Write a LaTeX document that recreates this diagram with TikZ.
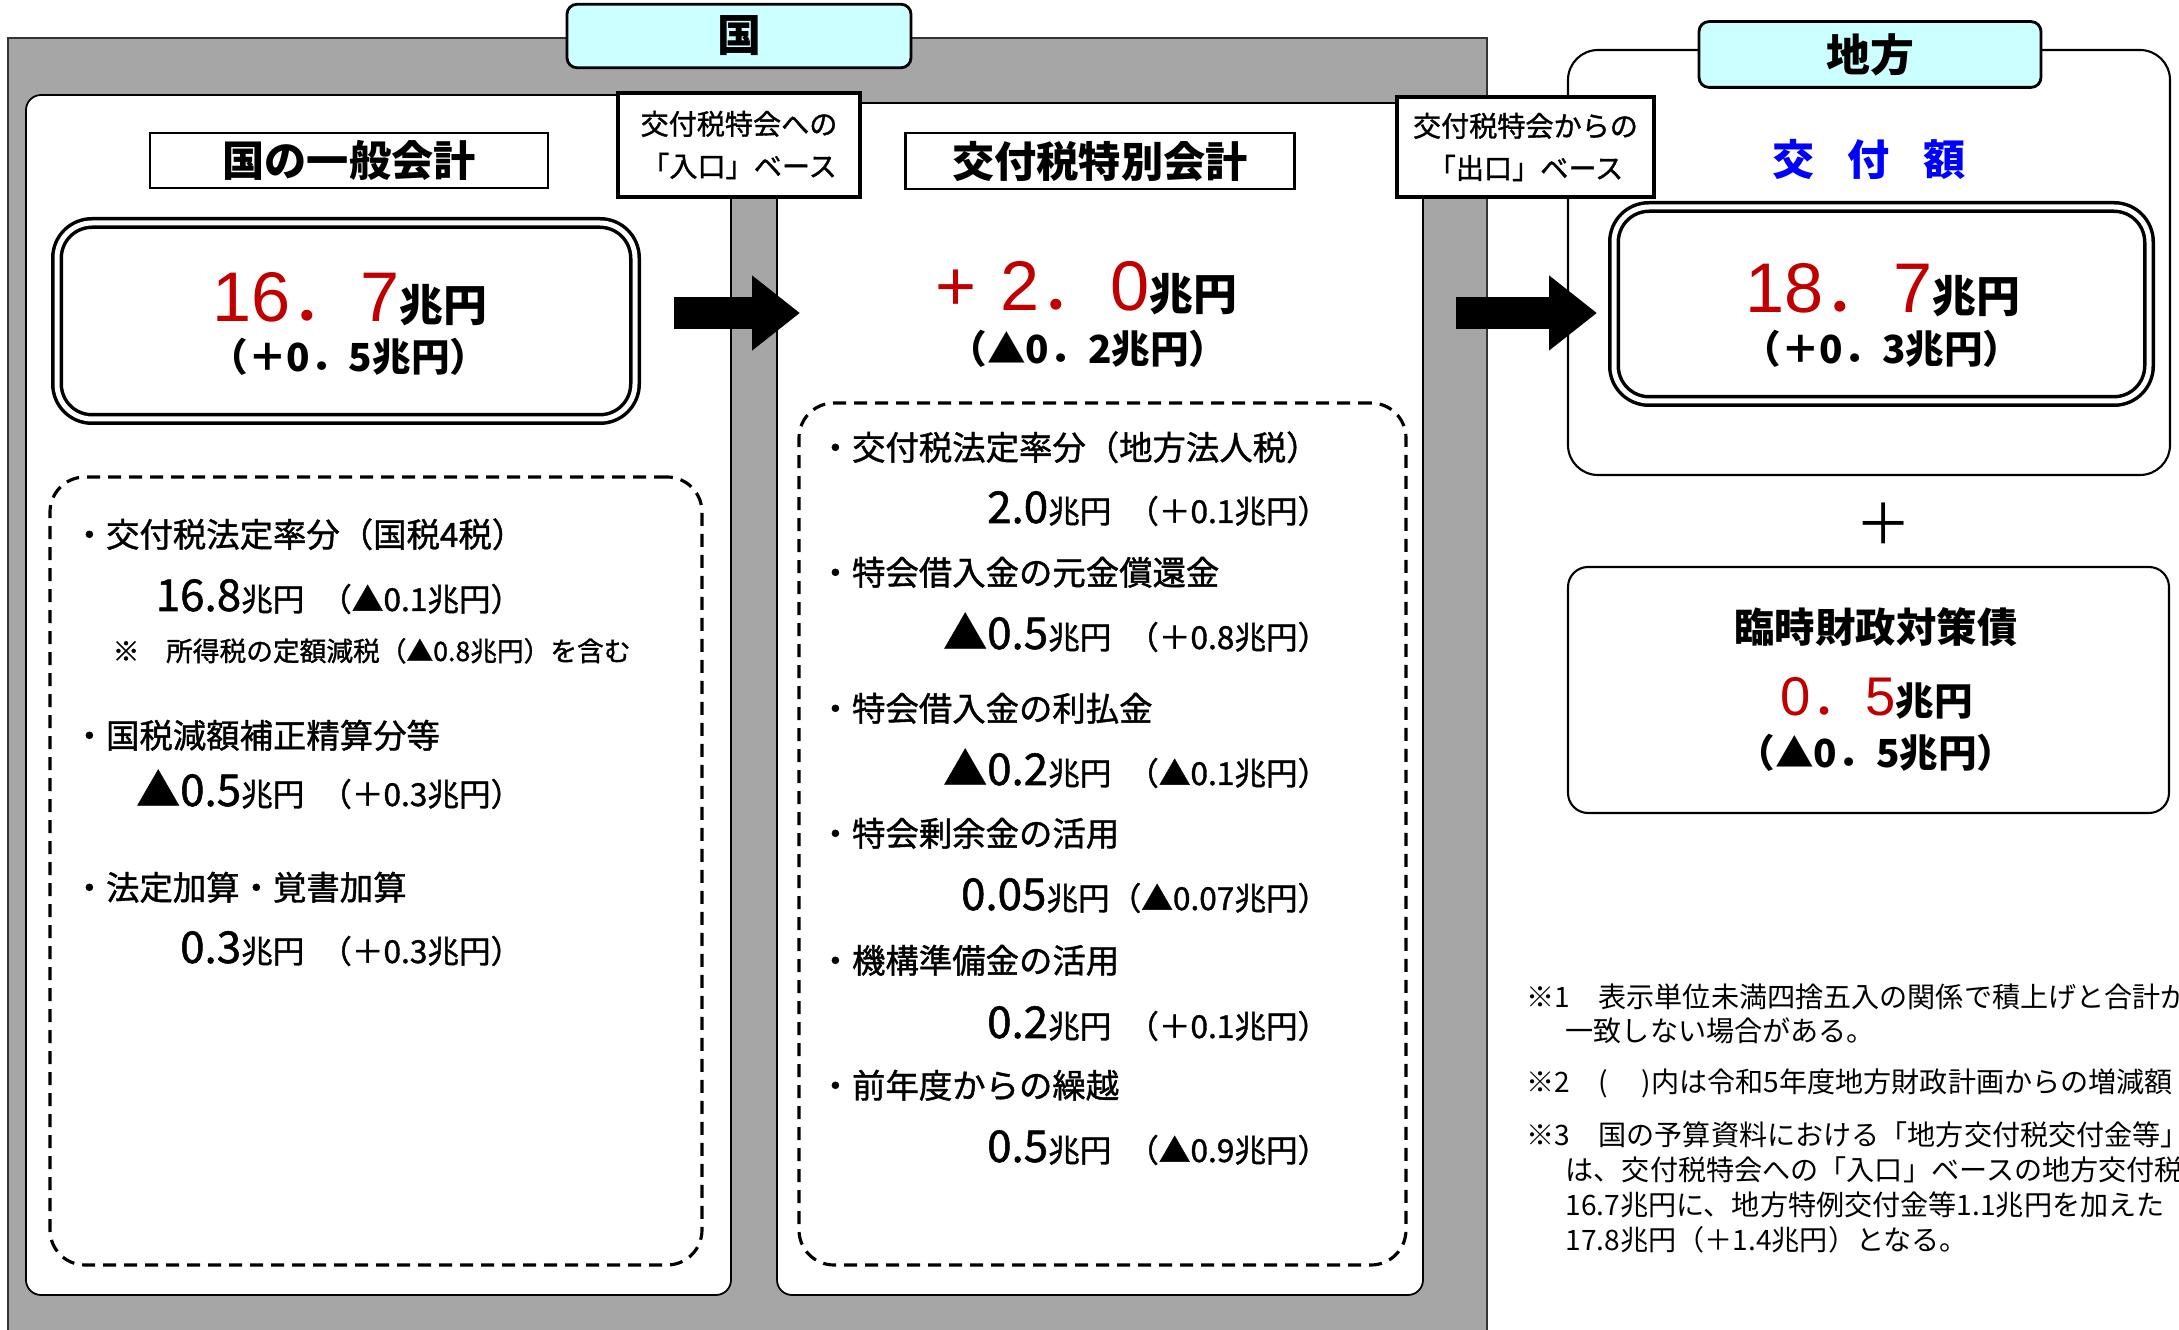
\documentclass[tikz,border=0pt]{standalone}
\usepackage{fontspec}
\setmainfont{Noto Sans CJK JP}
\newfontfamily\jpmed[FakeBold=1.2]{Noto Sans CJK JP}
\newfontfamily\lib{Liberation Sans}
\usetikzlibrary{arrows.meta, positioning}
\definecolor{bggray}{HTML}{A6A6A6}
\definecolor{tabcyan}{HTML}{CCFFFF}
\definecolor{numred}{HTML}{C00000}
\definecolor{kofublue}{HTML}{0000FF}
\newcommand{\fsz}[1]{\fontsize{#1}{#1}\selectfont}
\newcommand{\amt}[2]{{\fsz{12.5}#1}兆円\hspace{0.5em}#2}
\newcommand{\headnum}[2]{\textcolor{numred}{\fsz{20}{\lib #1}．{\lib #2}}}
\tikzset{
  bg/.style={fill=bggray, draw=black!80, line width=0.6pt}, % the grey frame of 国
  panel/.style={draw=black, fill=white, rounded corners=1.5mm, line width=0.5pt},
  locbox/.style={draw=black, fill=white, rounded corners=3mm, line width=0.6pt},
  tab/.style={draw=black, fill=tabcyan, rounded corners=1mm, line width=0.8pt, font=\bfseries\fsz{12.5}},
  title/.style={draw=black, fill=white, line width=0.8pt, inner sep=0pt, font=\bfseries\fsz{12}},
  gate/.style={draw=black, fill=white, line width=1.4pt, align=center, font=\jpmed\fontsize{8}{12}\selectfont},
  total/.style={draw=black, fill=white, double, double distance=0.5mm, line width=0.35mm, rounded corners=3.5mm},
  listbox/.style={draw=black, line width=0.9pt, dash pattern=on 1.3mm off 0.8mm, rounded corners=3.5mm},
  bignum/.style={anchor=base, inner sep=0pt},
  subnum/.style={anchor=base, inner sep=0pt, font=\bfseries\fsz{11}},
  item/.style={anchor=base west, inner sep=0pt, font=\jpmed\fsz{9.5}},
  amount/.style={anchor=base east, inner sep=0pt, font=\jpmed\fsz{9}},
  remark/.style={anchor=base west, inner sep=0pt, font=\jpmed\fsz{7.6}},
  fnote/.style={anchor=base west, inner sep=0pt, font=\fsz{8}},
  flow/.style={line width=3.2mm, -{Triangle[length=4.8mm, width=7.2mm]}},
}
\begin{document}
\begin{tikzpicture}[x=0.1mm, y=-0.1mm]
\useasboundingbox (0,0) rectangle (2179,1330);
\clip (0,0) rectangle (2179,1330);

% 国
\draw[bg] (8,38) rectangle (1487,1360);
\node[panel, minimum width=70.5mm, minimum height=120mm] (genpanel) at (378.5,695) {};
\node[panel, minimum width=64.6mm, minimum height=119.2mm] (spepanel) at (1100,699) {};

% 地方
\node[locbox, minimum width=60.2mm, minimum height=42.5mm] (locpanel) at (1869,262.5) {};
\node[locbox, rounded corners=2mm, minimum width=60.1mm, minimum height=24.6mm] (rinji) at (1868.5,690) {};

\node[tab, minimum width=34.4mm, minimum height=5.6mm] (kuni) at (739,36) {国};
\node[tab, minimum width=34.2mm, minimum height=5.7mm] (chiho) at (1870,54.5) {地方};

\node[gate, minimum width=24.2mm, minimum height=10.4mm] (iriguchi) at (739,145) {交付税特会への\\「入口」ベース};
\node[gate, minimum width=25.7mm, minimum height=10mm] (deguchi) at (1525.5,147) {交付税特会からの\\「出口」ベース};

% general account
\node[title, minimum width=39.8mm, minimum height=5.5mm] (gentitle) at (349,160.5) {国の一般会計};
\node[total, minimum width=57.8mm, minimum height=19.6mm] (gentotal) at (346,321) {};
\node[bignum] (genamt) at (350,322) {\headnum{16}{7}\bfseries\fsz{12.5}兆円};
\node[subnum] (gendiff) at (349,372) {（＋0．5兆円）};

\node[listbox, minimum width=65.2mm, minimum height=78.8mm] (genlist) at (376,871) {};
\node[item] (gen1) at (72,547) {・交付税法定率分（国税4税）};
\node[amount] (genv1) at (523,611) {\amt{16.8}{（▲0.1兆円）}};
\node[remark] (gennote) at (112,661) {※　所得税の定額減税（▲0.8兆円）を含む};
\node[item] (gen2) at (72,748) {・国税減額補正精算分等};
\node[amount] (genv2) at (523,806) {\amt{▲0.5}{（＋0.3兆円）}};
\node[item] (gen3) at (72,900) {・法定加算・覚書加算};
\node[amount] (genv3) at (523,963) {\amt{0.3}{（＋0.3兆円）}};

% special account
\node[title, minimum width=38.9mm, minimum height=5.6mm] (spetitle) at (1100,161) {交付税特別会計};
\node[bignum] (speamt) at (1086,311) {\textcolor{numred}{\fsz{20}\lib +\hspace{0.35em}}\headnum{2}{0}\bfseries\fsz{12.5}兆円};
\node[subnum] (spediff) at (1088,364) {（▲0．2兆円）};

\node[listbox, minimum width=60.7mm, minimum height=86.2mm] (spelist) at (1102.5,834) {};
\node[item] (spe1) at (818,460) {・交付税法定率分（地方法人税）};
\node[amount] (spev1) at (1330,523) {\amt{2.0}{（＋0.1兆円）}};
\node[item] (spe2) at (818,585) {・特会借入金の元金償還金};
\node[amount] (spev2) at (1330,649) {\amt{▲0.5}{（＋0.8兆円）}};
\node[item] (spe3) at (818,721) {・特会借入金の利払金};
\node[amount] (spev3) at (1330,785) {\amt{▲0.2}{（▲0.1兆円）}};
\node[item] (spe4) at (818,846) {・特会剰余金の活用};
\node[amount] (spev4) at (1330,910) {{\fsz{12.5}0.05}兆円（▲0.07兆円）};
\node[item] (spe5) at (818,973) {・機構準備金の活用};
\node[amount] (spev5) at (1330,1038) {\amt{0.2}{（＋0.1兆円）}};
\node[item] (spe6) at (818,1098) {・前年度からの繰越};
\node[amount] (spev6) at (1330,1162) {\amt{0.5}{（▲0.9兆円）}};

% local
\node[font=\bfseries\fsz{12}, text=kofublue] (kofu) at (1869,159) {交\hspace{0.8em}付\hspace{0.8em}額};
\node[total, minimum width=53.5mm, minimum height=19.4mm] (loctotal) at (1881.5,304) {};
\node[bignum] (locamt) at (1883,313) {\headnum{18}{7}\bfseries\fsz{12.5}兆円};
\node[subnum] (locdiff) at (1882,364) {（＋0．3兆円）};

\node[font=\fsz{16}] (plus) at (1884,524) {＋};
\node[font=\bfseries\fsz{11.5}] (rinjititle) at (1876,627) {臨時財政対策債};
\node[bignum] (rinjiamt) at (1877,716) {\textcolor{numred}{\fsz{15.5}{\lib 0}．{\lib 5}}\bfseries\fsz{11}兆円};
\node[subnum] (rinjidiff) at (1876,768) {（▲0．5兆円）};

% arrows
\coordinate (out1) at (674,313);
\coordinate (in1) at (800,313);
\coordinate (out2) at (1456,313);
\coordinate (in2) at (1597,313);
\draw[flow] (out1) -- (in1);
\draw[flow] (out2) -- (in2);

% notes
\node[fnote] (fn1a) at (1526,1008) {※1　表示単位未満四捨五入の関係で積上げと合計が};
\node[fnote] (fn1b) at (1565,1041) {一致しない場合がある。};
\node[fnote] (fn2) at (1526,1093) {※2　(\hspace{1.2em})内は令和5年度地方財政計画からの増減額};
\node[fnote] (fn3a) at (1526,1145) {※3　国の予算資料における「地方交付税交付金等」};
\node[fnote] (fn3b) at (1565,1180) {は、交付税特会への「入口」ベースの地方交付税};
\node[fnote] (fn3c) at (1565,1215) {16.7兆円に、地方特例交付金等1.1兆円を加えた};
\node[fnote] (fn3d) at (1565,1250) {17.8兆円（＋1.4兆円）となる。};
\end{tikzpicture}
\end{document}
